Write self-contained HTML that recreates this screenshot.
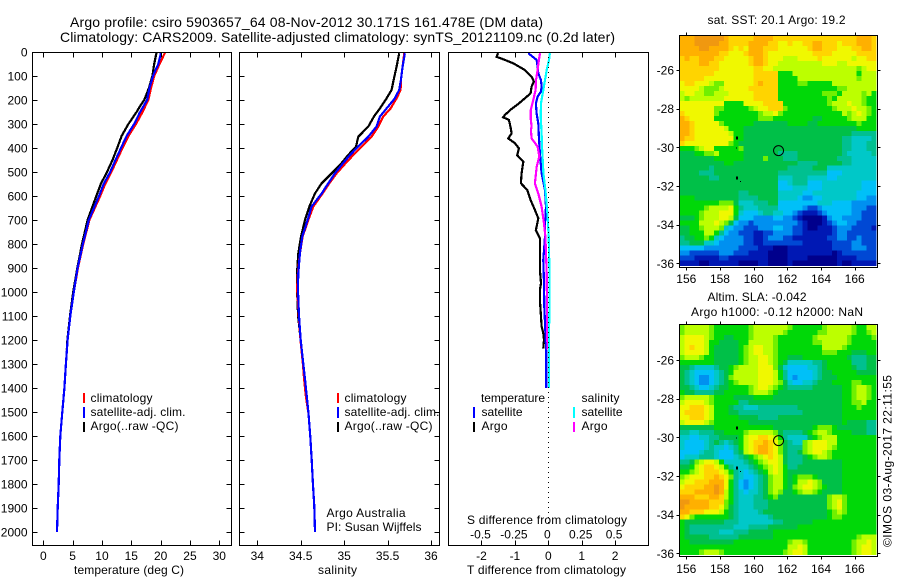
<!DOCTYPE html>
<html>
<head>
<meta charset="utf-8">
<style>
html,body{margin:0;padding:0;background:#fff;}
svg{display:block;font-family:"Liberation Sans",sans-serif;font-size:12px;fill:#000;}
</style>
</head>
<body>
<svg id="chart" xmlns="http://www.w3.org/2000/svg" width="900" height="580" viewBox="0 0 900 580">
<rect x="0" y="0" width="900" height="580" fill="#fff"/>
<g id="maps"></g>
<g id="marks"></g>
<g id="axes"></g>
<text x="70" y="27" font-size="14" textLength="473">Argo profile: csiro 5903657_64 08-Nov-2012 30.171S 161.478E (DM data)</text>
<text x="60" y="42" font-size="14" textLength="555">Climatology: CARS2009. Satellite-adjusted climatology: synTS_20121109.nc (0.2d later)</text>
<text x="74" y="574" textLength="110">temperature (deg C)</text>
<text x="318" y="574" textLength="39">salinity</text>
<text x="467" y="574" textLength="159">T difference from climatology</text>
<text x="467" y="524" textLength="160">S difference from climatology</text>

<g>
<rect x="83" y="393" width="2" height="10" fill="#f00"/>
<rect x="83" y="407" width="2" height="11" fill="#00f"/>
<rect x="83" y="422" width="2" height="10" fill="#000"/>
<text x="90.5" y="402" textLength="62">climatology</text>
<text x="90.5" y="416" textLength="95">satellite-adj. clim.</text>
<text x="90.5" y="430" textLength="88">Argo(..raw -QC)</text>
</g>
<g>
<rect x="337" y="393" width="2" height="10" fill="#f00"/>
<rect x="337" y="407" width="2" height="11" fill="#00f"/>
<rect x="337" y="422" width="2" height="10" fill="#000"/>
<text x="344.5" y="402" textLength="62">climatology</text>
<text x="344.5" y="416" textLength="95">satellite-adj. clim.</text>
<text x="344.5" y="430" textLength="88">Argo(..raw -QC)</text>
<text x="326.5" y="517" textLength="79">Argo Australia</text>
<text x="326.5" y="531" textLength="95">PI: Susan Wijffels</text>
</g>
<g>
<text x="481" y="402" textLength="64">temperature</text>
<text x="581.5" y="402" textLength="38">salinity</text>
<rect x="473" y="407" width="2" height="11" fill="#00f"/>
<rect x="473" y="422" width="2" height="10" fill="#000"/>
<rect x="573" y="407" width="2" height="11" fill="#0ff"/>
<rect x="573" y="422" width="2" height="10" fill="#f0f"/>
<text x="481.5" y="416" textLength="41">satellite</text>
<text x="481.5" y="430" textLength="26">Argo</text>
<text x="581.5" y="416" textLength="41">satellite</text>
<text x="581.5" y="430" textLength="26">Argo</text>
</g>

<text x="707.5" y="24" textLength="138">sat. SST: 20.1 Argo: 19.2</text>
<text x="707.5" y="301" textLength="99">Altim. SLA: -0.042</text>
<text x="691" y="316" textLength="172">Argo h1000: -0.12 h2000: NaN</text>
<text transform="translate(891.5 547) rotate(-90)" textLength="172">©IMOS 03-Aug-2017 22:11:55</text>
</svg>

<script>
const depthTicks=[0,100,200,300,400,500,600,700,800,900,1000,1100,1200,1300,1400,1500,1600,1700,1800,1900,2000];
const tempTicks=[0,5,10,15,20,25,30];
const salTicks=[34,34.5,35,35.5,36];
const tDiffTicks=[-2,-1,0,1,2];
const sDiffTicks=[-0.5,-0.25,0,0.25,0.5];
const lonTicks=[156,158,160,162,164,166];
const latTicks=[-26,-28,-30,-32,-34,-36];

const tempDepths=[3,50,100,150,200,250,300,350,400,450,500,550,600,700,800,900,1000,1100,1200,1300,1400,1500,1600,1700,1800,1900,2000];
const tempClim=[20.74,19.8,18.9,18.35,17.9,16.9,15.8,14.5,13.5,12.55,11.6,10.55,9.7,7.85,6.8,5.9,5.2,4.6,4.15,3.85,3.6,3.24,2.9,2.73,2.62,2.45,2.33];
const tempSat=[20.06,19.6,18.7,18.1,17.7,16.5,15.5,14.2,13.25,12.3,11.4,10.3,9.5,7.75,6.75,5.85,5.2,4.6,4.15,3.85,3.6,3.24,2.9,2.73,2.62,2.45,2.33];
const argoTempDepths=[3,50,100,150,175,200,225,250,275,300,350,400,450,500,550,600,700,800,900,1000,1100,1200,1240];
const tempArgo=[19.3,18.9,18.6,18.0,17.6,17.2,16.5,15.9,15.2,14.5,13.35,12.6,11.8,10.85,9.8,9.03,7.55,6.6,5.8,5.1,4.55,4.1,4.0];

const salDepths=[5,61,117,158,193,235,269,311,353,394,429,471,506,547,589,644,700,769,839,922,985,1100,1200,1300,1367,1436,1506,1603,1700,1797,1894,2000];
const salClim=[35.692,35.673,35.654,35.65,35.604,35.535,35.45,35.393,35.316,35.2,35.105,34.998,34.913,34.829,34.752,34.645,34.587,34.522,34.491,34.468,34.458,34.478,34.497,34.525,34.54,34.56,34.59,34.61,34.626,34.64,34.656,34.664];
const salSat=[35.7,35.673,35.654,35.634,35.584,35.489,35.412,35.373,35.278,35.163,35.067,34.971,34.894,34.817,34.741,34.625,34.579,34.518,34.491,34.472,34.468,34.48,34.5,34.53,34.55,34.57,34.59,34.61,34.626,34.64,34.656,34.664];
const argoSalDepths=[5,61,117,158,193,235,269,311,353,394,429,471,506,547,589,644,700,769,839,922,985,1100,1200,1240];
const salArgo=[35.634,35.604,35.569,35.546,35.489,35.412,35.343,35.278,35.163,35.136,35.047,34.952,34.856,34.741,34.664,34.599,34.549,34.503,34.472,34.457,34.457,34.47,34.5,34.51];

const tDiffArgoDepths=[5,20,33,47,75,103,123,144,172,193,214,237,262,272,283,314,339,360,380,401,430,457,505,547,575,617,658,693,742,776,825,908,964,992,1033,1103,1144,1172,1200,1235];
const tDiffArgo=[-1.5,-1.55,-1.3,-1.05,-0.7,-0.5,-0.43,-0.5,-0.53,-0.7,-0.88,-1.1,-1.3,-1.35,-1.18,-1.13,-1.1,-1.2,-1.0,-0.88,-0.93,-0.75,-0.8,-0.82,-0.63,-0.53,-0.4,-0.3,-0.37,-0.25,-0.25,-0.25,-0.22,-0.25,-0.25,-0.22,-0.2,-0.15,-0.13,-0.15];
const tDiffSatDepths=[5,33,61,89,117,144,165,186,214,256,297,353,422,506,575,644,714,769,867,964,1061,1158,1256,1400];
const tDiffSat=[-0.6,-0.35,-0.32,-0.3,-0.22,-0.2,-0.22,-0.32,-0.37,-0.35,-0.3,-0.28,-0.25,-0.2,-0.1,-0.07,-0.1,-0.1,-0.15,-0.13,-0.12,-0.09,-0.06,-0.06];
const sDiffSatDepths=[5,33,75,117,172,214,269,339,394,506,575,672,769,922,1047,1144,1256,1400];
const sDiffSat=[0.012,0.005,-0.012,-0.025,-0.042,-0.055,-0.057,-0.05,-0.047,-0.037,-0.022,-0.007,0.003,0.009,0.009,0.006,0.005,0.006];
const sDiffArgoDepths=[5,33,75,117,158,200,242,276,311,325,360,394,436,478,547,589,644,714,769,922,1061,1228,1240];
const sDiffArgo=[-0.062,-0.07,-0.08,-0.092,-0.095,-0.112,-0.132,-0.132,-0.125,-0.13,-0.125,-0.08,-0.067,-0.087,-0.1,-0.075,-0.05,-0.032,-0.022,-0.012,-0.01,-0.007,-0.007];

const sstRows=[
[13,13,13,14,14,14,14,14,14,13,12,12,12,12,12,13,13,13,13,12,12,12,12,12,12,12,12,12,12,12,12,12,12,12,12,12,13,13,13,12],
[13,13,13,14,14,14,14,14,13,13,12,12,12,12,13,13,13,13,12,12,11,11,12,11,11,12,12,13,13,12,12,12,11,12,12,12,13,13,13,12],
[13,13,13,13,14,14,13,13,13,13,12,11,12,11,13,13,13,12,12,12,11,11,11,11,11,11,12,13,13,12,12,12,11,11,11,12,12,13,13,12],
[13,13,13,13,13,13,13,13,12,12,11,11,11,12,13,13,13,12,11,11,11,11,11,11,11,11,11,12,12,12,12,11,11,11,11,11,12,12,12,12],
[12,13,12,12,13,13,13,12,12,11,11,11,11,11,12,13,13,12,11,11,11,10,10,10,11,11,11,11,12,11,11,11,11,11,11,10,11,11,12,12],
[12,12,12,12,13,13,12,12,11,11,11,11,11,11,12,13,13,12,11,11,10,10,10,10,10,10,10,10,10,11,11,11,10,10,11,11,11,11,11,11],
[12,12,12,12,12,12,12,12,11,11,11,11,11,11,11,12,12,11,11,10,10,10,10,10,10,10,10,10,10,10,10,10,10,10,10,10,9,10,11,11],
[12,12,12,12,12,12,12,11,11,11,11,11,11,11,11,12,12,12,12,12,8,8,8,10,10,10,10,10,10,10,10,10,10,10,10,10,8,10,10,10],
[12,12,12,12,12,11,11,11,11,11,11,11,11,11,11,12,12,12,12,12,8,8,8,8,10,10,10,10,10,10,10,10,10,10,10,10,9,10,10,10],
[11,12,12,11,11,11,10,9,9,11,11,11,11,11,11,12,13,12,12,12,8,8,8,8,9,9,8,8,8,8,8,10,10,10,10,10,10,10,10,10],
[11,11,11,11,10,9,9,9,10,11,11,11,11,11,12,12,12,12,12,12,8,8,8,8,8,8,8,8,8,8,8,8,9,9,10,10,10,10,10,10],
[10,11,11,10,10,9,9,10,10,10,11,11,11,11,11,12,12,12,12,12,8,8,8,8,8,8,8,8,8,9,9,9,8,10,10,10,10,9,10,8],
[10,9,10,10,10,10,10,10,10,11,11,11,11,11,11,12,12,12,12,12,8,8,8,8,8,8,8,8,8,8,9,8,10,10,10,10,10,9,8,8],
[11,11,11,11,11,11,11,11,11,8,8,8,8,11,11,11,11,12,12,12,12,8,8,8,8,8,8,8,8,8,9,10,10,10,11,10,10,9,8,8],
[11,11,11,11,11,11,11,9,9,8,8,8,8,8,9,10,11,11,12,12,12,9,8,8,8,8,8,8,8,8,8,9,10,10,10,11,10,10,9,8],
[12,11,11,11,11,11,11,9,8,8,8,8,8,8,8,8,9,10,10,11,9,8,8,8,8,8,8,8,8,8,8,8,8,10,9,10,11,10,9,8],
[13,12,11,11,11,11,11,8,8,8,8,8,8,8,8,8,9,9,9,8,8,8,8,8,8,8,8,7,7,8,8,8,8,8,9,10,10,10,8,8],
[13,13,12,11,11,11,11,11,9,8,8,8,8,8,8,7,7,7,7,7,7,7,8,8,8,8,7,7,8,8,8,8,8,8,8,8,9,8,8,8],
[13,13,12,11,11,11,11,11,11,10,8,8,8,7,7,7,7,7,7,7,7,7,7,7,7,7,7,7,7,7,7,7,7,7,7,7,8,8,8,8],
[13,13,12,11,11,11,11,11,11,11,10,8,8,7,7,7,7,7,7,7,7,7,7,7,7,7,7,7,7,7,7,7,7,7,7,6,6,6,6,6],
[13,12,12,11,11,11,11,11,11,11,11,8,8,7,7,7,7,7,7,7,7,7,7,7,7,7,7,7,7,7,7,7,7,6,6,5,5,5,5,6],
[12,11,11,11,11,11,11,11,11,11,9,8,7,7,7,7,7,7,7,7,7,7,7,7,7,7,7,7,7,7,7,7,7,6,6,5,5,5,6,6],
[8,8,8,9,10,11,11,8,8,8,8,8,9,7,7,7,7,7,7,7,7,7,7,7,7,7,7,7,7,7,7,7,7,6,6,5,5,5,6,6],
[7,7,7,8,8,9,9,10,8,8,8,8,8,7,7,7,7,7,7,7,6,6,6,6,7,7,7,7,7,7,7,7,7,6,5,5,5,5,5,6],
[7,7,7,7,7,7,7,8,8,8,8,8,8,7,7,7,7,9,7,7,7,6,6,6,7,7,7,7,7,7,7,7,6,6,6,5,5,5,5,5],
[7,7,7,7,7,7,7,7,7,8,8,7,7,7,7,7,7,7,7,7,7,7,7,7,6,6,6,6,7,7,7,7,7,6,6,5,5,5,5,5],
[7,7,7,7,7,7,6,7,7,7,7,7,7,7,7,7,7,7,7,7,7,7,6,6,6,6,6,7,7,7,5,5,5,5,5,5,5,5,5,5],
[7,7,7,7,6,6,6,7,7,7,7,7,7,7,7,7,7,7,7,7,6,6,6,6,6,6,6,6,6,6,4,4,4,5,5,5,5,5,5,5],
[7,7,7,7,7,7,6,6,7,7,7,7,7,7,7,7,7,7,7,7,5,5,5,6,6,6,5,5,5,5,4,4,5,5,5,5,5,5,5,5],
[7,7,7,7,7,7,7,7,7,7,7,7,7,7,7,7,7,7,7,7,4,4,5,6,6,6,4,4,4,5,5,5,5,5,5,5,5,4,4,4],
[7,7,7,7,7,7,7,7,7,7,7,7,7,7,7,7,7,7,7,7,4,4,4,5,5,5,4,4,4,5,5,5,5,5,5,5,5,4,4,4],
[7,7,7,7,7,7,7,7,7,7,7,7,6,6,7,7,7,7,7,7,5,5,5,5,5,4,4,5,5,5,5,5,5,5,5,5,4,4,4,4],
[8,8,8,7,7,7,7,7,7,7,7,7,6,6,6,6,7,7,7,7,5,5,5,5,4,3,3,4,4,5,5,5,5,5,5,5,4,4,3,3],
[8,8,8,8,8,8,8,8,9,9,9,7,5,5,5,6,6,6,7,7,4,4,4,4,4,4,4,4,5,5,5,4,4,4,4,3,3,3,3,3],
[8,8,8,8,8,9,10,10,10,10,11,8,6,5,5,5,6,6,6,6,4,4,4,4,4,3,2,2,3,4,4,4,4,4,4,3,3,3,2,2],
[8,8,8,8,9,10,10,10,11,11,11,8,5,4,4,4,5,6,6,5,5,4,4,3,2,1,1,1,2,3,4,4,4,4,4,3,3,2,2,2],
[7,7,7,8,9,10,10,10,11,11,10,7,4,4,4,3,3,3,3,4,4,3,3,2,1,0,0,0,0,1,3,4,4,3,3,3,3,2,2,2],
[8,8,8,8,10,10,10,11,10,9,7,4,3,3,2,3,3,3,3,3,3,3,3,3,2,1,0,0,0,1,2,3,4,4,3,3,2,2,2,2],
[7,7,8,8,9,10,10,10,9,5,4,3,3,2,2,2,3,3,3,4,4,3,3,2,2,1,0,0,1,1,1,2,3,3,3,2,2,2,2,1],
[7,7,8,8,8,10,10,8,6,4,3,3,2,2,2,1,1,2,2,3,3,3,3,2,2,1,1,1,1,1,1,2,3,3,2,2,2,2,2,2],
[6,7,7,8,8,9,8,5,4,3,3,3,3,2,2,1,1,2,3,3,3,2,2,1,1,1,1,1,1,1,2,2,3,3,2,2,3,2,2,2],
[6,6,7,7,7,5,5,4,3,3,3,3,3,2,2,1,1,2,2,2,2,2,2,2,2,1,1,1,1,1,1,2,2,2,2,3,3,2,2,2],
[4,4,4,4,4,3,3,3,3,3,3,3,2,2,2,2,1,1,1,0,0,0,1,1,1,1,1,1,1,1,1,2,2,2,2,3,3,3,2,2],
[3,3,2,2,2,2,2,2,3,3,3,2,2,2,1,1,1,1,0,0,0,0,1,1,1,1,1,1,1,1,1,0,1,2,2,2,2,2,2,2],
[2,2,2,1,1,1,1,1,2,2,1,1,1,1,1,1,1,1,0,0,0,0,1,1,1,1,0,0,0,0,0,0,1,1,1,1,2,2,2,2],
[1,1,1,1,0,0,1,1,1,1,1,1,0,0,0,0,1,1,0,0,0,0,1,0,0,0,0,0,0,0,0,0,1,0,0,1,1,1,1,1]
];

const slaRows=[
[9,10,10,10,10,10,9,8,8,8,8,8,8,8,9,10,10,10,10,10,10,10,9,8,8,8,8,8,8,9,10,10,10,10,10,9,8,8,10,10],
[9,10,10,10,10,10,9,8,8,8,8,8,8,8,9,10,10,10,10,10,10,9,8,8,8,8,8,8,9,9,10,10,10,10,10,9,8,8,9,10],
[10,11,11,11,11,10,9,8,8,7,7,8,8,8,9,10,10,10,10,9,8,8,8,8,8,8,8,9,10,10,10,10,10,10,9,8,8,8,8,9],
[10,11,11,11,11,10,8,8,7,7,7,7,8,8,10,10,10,10,10,9,8,8,8,8,8,8,8,9,9,10,10,10,10,10,9,8,8,8,8,8],
[10,11,12,11,11,10,8,7,7,7,7,7,8,9,10,11,11,10,10,9,8,8,8,8,8,8,8,8,8,10,10,10,10,9,8,8,8,8,8,8],
[10,11,11,11,11,10,8,7,7,7,7,7,8,9,10,11,11,10,10,9,8,8,8,8,8,8,8,8,8,9,9,9,8,8,8,7,7,7,8,8],
[9,10,10,10,9,8,8,7,7,7,7,7,8,9,10,10,11,11,10,9,8,8,7,7,7,8,8,8,8,8,8,8,8,8,7,6,6,6,7,7],
[8,8,8,8,8,8,8,7,7,7,7,7,8,9,10,10,11,11,10,9,8,7,5,5,5,5,5,6,6,7,8,8,8,8,8,6,6,6,7,7],
[7,7,6,5,5,5,5,6,7,7,8,9,10,10,10,10,11,11,11,9,7,5,4,4,4,4,5,5,6,7,8,8,8,8,8,7,6,6,7,7],
[7,6,5,4,4,4,4,5,6,7,8,10,10,10,10,10,11,11,11,10,8,6,4,4,4,4,4,5,6,7,7,8,8,8,8,8,7,7,7,7],
[7,6,5,4,3,3,4,5,6,7,9,10,10,10,10,10,11,11,11,10,8,6,4,3,4,4,4,5,6,7,7,7,8,8,8,8,8,8,8,8],
[7,6,5,4,3,3,4,5,6,7,8,9,10,10,10,10,11,11,11,10,9,7,5,4,4,5,5,6,7,7,7,8,8,8,8,9,9,8,8,8],
[7,7,6,5,4,4,5,6,7,7,8,8,8,8,9,10,11,11,10,9,8,7,6,6,6,6,6,7,7,7,7,7,7,8,8,9,10,10,9,8],
[8,7,7,6,6,6,6,7,7,8,8,8,8,8,9,10,10,10,9,8,7,7,7,7,7,7,7,7,7,7,7,7,7,8,8,9,10,10,9,8],
[9,10,10,10,10,10,9,8,8,8,8,7,7,7,7,8,8,8,8,7,7,7,7,7,7,7,7,7,7,7,7,7,7,8,8,9,10,10,9,8],
[10,11,11,11,11,10,9,8,8,8,8,8,6,6,7,7,7,7,7,7,7,7,7,7,7,7,7,7,7,7,7,7,7,8,8,9,9,10,8,8],
[11,11,12,12,12,11,10,8,8,8,7,6,6,5,5,5,6,6,6,6,6,6,6,6,7,7,7,7,7,7,7,7,7,8,8,8,9,8,8,8],
[11,12,12,12,12,11,10,8,8,8,7,7,6,6,6,6,6,6,6,6,6,6,6,6,6,7,7,7,7,7,7,7,7,8,8,8,8,8,8,8],
[11,11,12,12,12,11,10,8,8,8,8,8,7,7,7,7,6,6,6,6,7,7,7,7,7,7,7,7,7,7,7,7,7,8,8,8,8,8,8,8],
[10,11,11,11,11,10,9,8,8,8,8,8,8,8,7,7,7,7,7,7,7,7,7,7,7,7,7,7,7,7,7,7,7,8,7,7,7,7,6,6],
[7,7,7,7,7,7,7,8,8,8,8,8,8,8,8,8,8,8,8,7,7,7,7,7,7,7,7,8,9,9,9,8,7,7,7,7,7,7,6,6],
[6,6,5,5,6,6,6,7,7,8,8,8,8,9,10,10,10,10,10,9,7,6,6,6,6,7,8,9,10,10,9,8,8,8,8,7,7,7,6,6],
[5,5,4,4,5,5,6,6,7,7,7,7,8,10,11,11,12,12,11,10,8,6,5,5,5,5,7,8,9,10,10,10,8,8,8,8,8,8,8,8],
[5,4,4,4,4,5,6,7,6,5,6,7,8,10,11,12,12,13,12,11,9,7,6,5,5,9,10,11,11,11,10,10,8,8,8,8,8,8,8,8],
[5,4,4,4,4,5,6,5,5,4,5,6,8,10,11,12,13,13,12,11,9,7,6,6,6,9,10,11,11,11,10,9,8,8,8,8,8,8,8,8],
[4,4,4,4,5,6,6,5,4,4,4,6,7,10,11,12,13,13,12,11,9,7,6,6,7,9,10,11,11,10,9,8,8,8,8,8,8,8,8,8],
[4,5,5,5,6,6,6,5,4,4,4,5,6,7,8,9,10,11,12,11,10,7,6,6,6,7,8,9,10,10,9,8,8,8,8,8,8,8,8,8],
[6,6,7,9,10,11,11,10,8,5,5,5,5,6,7,8,9,10,11,11,10,7,6,6,6,7,7,7,7,7,7,7,7,8,8,8,8,8,8,8],
[7,7,8,10,11,12,12,11,10,8,6,5,5,5,6,7,8,9,10,11,10,8,6,6,7,7,7,7,7,7,7,7,7,8,8,8,8,8,8,8],
[8,8,9,10,11,12,12,12,11,10,8,6,5,4,5,6,7,8,10,11,10,8,7,7,7,7,7,7,7,7,7,7,7,8,8,8,8,8,8,8],
[9,10,11,11,11,12,12,13,12,11,9,6,5,4,4,5,6,7,9,10,10,8,7,8,9,9,9,8,7,7,7,7,7,8,8,8,8,8,8,8],
[10,11,11,12,12,12,13,13,13,11,8,6,4,3,4,5,6,7,9,10,10,8,7,8,10,10,11,10,9,7,7,7,7,8,8,8,8,8,8,8],
[11,12,12,12,12,13,13,14,13,11,8,6,4,3,4,5,6,7,9,10,10,8,7,9,10,11,11,10,9,8,7,7,7,8,8,8,8,8,8,8],
[12,12,12,13,13,13,13,14,13,10,8,6,5,4,5,5,6,7,9,10,9,7,7,8,9,10,10,9,8,7,7,7,7,8,8,8,8,8,8,8],
[13,13,13,12,12,12,13,13,12,10,8,6,5,5,5,6,6,7,8,9,7,7,7,7,7,7,7,7,7,7,9,10,10,9,8,8,8,8,8,8],
[14,14,13,13,13,13,12,12,12,9,8,6,5,5,5,6,6,6,7,7,7,7,7,7,7,7,7,7,7,7,9,10,11,9,8,8,8,8,8,8],
[14,13,13,13,13,13,12,12,11,9,7,6,5,5,5,6,6,6,7,7,7,7,7,7,7,7,7,7,7,7,9,10,11,9,8,8,8,8,8,8],
[13,13,12,12,12,11,11,11,10,8,7,6,5,5,5,5,6,7,7,7,7,7,7,7,7,7,7,7,7,7,8,9,10,9,8,8,8,8,8,8],
[12,11,9,8,8,8,8,8,8,8,7,6,5,5,5,5,5,5,6,7,7,7,7,7,7,7,7,7,7,7,8,9,9,8,8,8,8,8,8,8],
[8,7,7,7,7,7,7,7,7,6,6,6,5,5,5,5,5,5,5,6,6,7,7,7,7,7,7,8,8,8,8,8,8,8,8,8,8,8,8,8],
[8,7,6,6,6,6,6,6,6,6,6,5,5,5,6,6,6,6,7,7,7,7,7,7,8,8,8,8,8,8,8,8,8,8,8,8,8,8,8,8],
[8,7,6,6,6,6,6,6,5,5,5,6,6,6,7,7,7,7,7,8,8,8,8,8,8,8,8,8,8,8,8,8,8,8,8,8,8,8,8,8],
[8,7,7,7,7,7,6,6,6,6,6,6,7,7,7,7,7,7,7,8,8,8,8,8,8,8,8,8,8,8,8,8,8,8,8,8,9,10,10,10],
[8,8,7,7,7,7,7,7,7,7,7,8,8,8,8,8,8,8,8,8,8,8,9,10,10,9,8,8,8,8,8,8,8,8,8,9,10,10,11,10],
[8,8,8,8,8,8,8,8,8,8,8,8,8,8,8,8,8,8,8,8,8,8,10,10,11,10,8,8,8,8,8,8,8,8,8,9,10,11,11,10],
[8,8,8,8,9,10,10,10,9,8,8,8,8,8,8,8,8,8,8,8,8,9,10,11,11,10,8,8,8,8,8,8,8,8,8,9,10,11,11,10]
];

const svgNS='http://www.w3.org/2000/svg';
const axesLayer=document.getElementById('axes');
const marksLayer=document.getElementById('marks');
const mapsLayer=document.getElementById('maps');

const colorScale=['#00008c','#0018b4','#0048d4','#0090f0','#00c0f8','#00c8c8','#00c090','#00c048','#00d808','#70f000','#bcff00','#f0f800','#ffd400','#ffb000','#f09810'];

function yDepth(d){return 52+0.24*d;}
function xTemp(t){return 43.3+5.867*t;}
function xSal(s){return 257.3+86.85*(s-34);}
function xTDiff(t){return 548.3+33.4*t;}
function xSDiff(s){return 548.3+133.6*s;}

function makeSvg(tag,parent,attrs){
  const el=document.createElementNS(svgNS,tag);
  for(const k in attrs){el.setAttribute(k,attrs[k]);}
  parent.appendChild(el);
  return el;
}

function drawFrame(x0,y0,x1,y1,name){
  const el=makeSvg('rect',axesLayer,{x:x0,y:y0,width:x1-x0,height:y1-y0,fill:'none',stroke:'#000','stroke-width':1,'shape-rendering':'crispEdges'});
  
  
}

function drawLine(x1,y1,x2,y2,name){
  const el=makeSvg('line',axesLayer,{x1:x1,y1:y1,x2:x2,y2:y2,stroke:'#000','stroke-width':1,'shape-rendering':'crispEdges'});
  
  
}

function drawLabel(x,y,str,anchor,name){
  const el=makeSvg('text',axesLayer,{x:x,y:y,'text-anchor':anchor});
  el.textContent=str;
  
  
}

function drawProfile(depths,values,xFn,color,name){
  const pts=depths.map(function(d,i){return xFn(values[i]).toFixed(1)+','+yDepth(d).toFixed(1);}).join(' ');
  const el=makeSvg('polyline',marksLayer,{points:pts,fill:'none',stroke:color,'stroke-width':2.2,'shape-rendering':'crispEdges','stroke-linejoin':'miter'});
  
  
}

function xAxisTicks(ticks,xFn,left,right,top,bottom,prefix){
  ticks.forEach(function(v){
    const x=Math.round(xFn(v))+0.5;
    drawLine(x,top,x,top+5,prefix+'-top-tick');
    drawLine(x,bottom-5,x,bottom,prefix+'-bottom-tick');
    drawLabel(xFn(v),560,String(v),'middle',prefix+'-tick-label');
  });
}

function depthTickMarks(left,right,withLabels,prefix){
  depthTicks.forEach(function(d){
    const y=Math.round(yDepth(d))+0.5;
    drawLine(left,y,left+5,y,prefix+'-left-tick');
    drawLine(right-5,y,right,y,prefix+'-right-tick');
    if(withLabels){drawLabel(27.5,yDepth(d)+4.5,String(d),'end','depth-tick-label');}
  });
}

/* panel frames and axes */
drawFrame(32.5,52.5,231.5,545.5,'temperature-panel-frame');
drawFrame(239.5,52.5,439.5,545.5,'salinity-panel-frame');
drawFrame(448.5,52.5,648.5,545.5,'difference-panel-frame');
xAxisTicks(tempTicks,xTemp,32.5,231.5,52.5,545.5,'temperature-axis');
xAxisTicks(salTicks,xSal,239.5,439.5,52.5,545.5,'salinity-axis');
depthTickMarks(32.5,231.5,true,'temperature-depth');
depthTickMarks(239.5,439.5,false,'salinity-depth');

tDiffTicks.forEach(function(v){
  const x=Math.round(xTDiff(v))+0.5;
  drawLine(x,540.5,x,545.5,'t-difference-tick');
  if(v!==0){drawLine(x,52.5,x,57.5,'t-difference-top-tick');}
  drawLabel(xTDiff(v),560,String(v),'middle','t-difference-tick-label');
});
sDiffTicks.forEach(function(v){
  drawLabel(xSDiff(v)-1,538.5,String(v),'middle','s-difference-tick-label');
});
const zeroLine=makeSvg('line',axesLayer,{x1:548.5,y1:52,x2:548.5,y2:525,stroke:'#000','stroke-width':1,'stroke-dasharray':'1 4','shape-rendering':'crispEdges'});



/* profiles */
drawProfile(argoTempDepths,tempArgo,xTemp,'#000','temperature-argo-line');
drawProfile(tempDepths,tempClim,xTemp,'#f00','temperature-climatology-line');
drawProfile(tempDepths,tempSat,xTemp,'#00f','temperature-satellite-line');
drawProfile(argoSalDepths,salArgo,xSal,'#000','salinity-argo-line');
drawProfile(salDepths,salClim,xSal,'#f00','salinity-climatology-line');
drawProfile(salDepths,salSat,xSal,'#00f','salinity-satellite-line');
drawProfile(tDiffArgoDepths,tDiffArgo,xTDiff,'#000','t-difference-argo-line');
drawProfile(tDiffSatDepths,tDiffSat,xTDiff,'#00f','t-difference-satellite-line');
drawProfile(sDiffArgoDepths,sDiffArgo,xSDiff,'#f0f','s-difference-argo-line');
drawProfile(sDiffSatDepths,sDiffSat,xSDiff,'#0ff','s-difference-satellite-line');

/* maps */
function drawMap(rows,top,lat26Y,labelY,prefix){
  const left=679.5,right=877.5,dataTop=top+0.5,cellW=4.92,cellH=4.99;
  function lonX(lon){return 686.3+16.84*(lon-156);}
  function latY(lat){return lat26Y+19.33*(-26-lat);}
  const bottom=top+232;
  rows.forEach(function(row,r){
    row.forEach(function(level,c){
      const cell=makeSvg('rect',mapsLayer,{x:(left+c*cellW).toFixed(2),y:(dataTop+r*cellH).toFixed(2),width:cellW+0.3,height:cellH+0.3,fill:colorScale[level],'shape-rendering':'crispEdges'});
      
      
    });
  });
  drawFrame(left,top,right,bottom,prefix+'-frame');
  lonTicks.forEach(function(lon){
    const x=Math.round(lonX(lon))+0.5;
    drawLine(x,top-3,x,top,prefix+'-top-tick');
    drawLine(x,bottom,x,bottom+3,prefix+'-bottom-tick');
    drawLabel(lonX(lon),labelY,String(lon),'middle',prefix+'-longitude-label');
  });
  latTicks.forEach(function(lat){
    const y=Math.round(latY(lat))+0.5;
    drawLine(left-3,y,left,y,prefix+'-left-tick');
    drawLine(right,y,right+3,y,prefix+'-right-tick');
    drawLabel(674,latY(lat)+4.5,String(lat),'end',prefix+'-latitude-label');
  });
  /* float position and coast specks */
  const marker=makeSvg('circle',axesLayer,{cx:lonX(161.478),cy:latY(-30.171),r:5,fill:'none',stroke:'#000','stroke-width':1});
  
  
  const specks=[[159.02,-29.5,2,3],[159,-30.05,1,1],[159.02,-31.55,2,3],[159.25,-31.8,1,1]];
  specks.forEach(function(s){
    const speck=makeSvg('rect',axesLayer,{x:lonX(s[0])-1,y:latY(s[1])-1,width:s[2],height:s[3],fill:'#000','shape-rendering':'crispEdges'});
    
    
  });
}
drawMap(sstRows,35.5,70,283,'sst-map');
drawMap(slaRows,324.5,360,573,'sla-map');
</script>
</body>
</html>
